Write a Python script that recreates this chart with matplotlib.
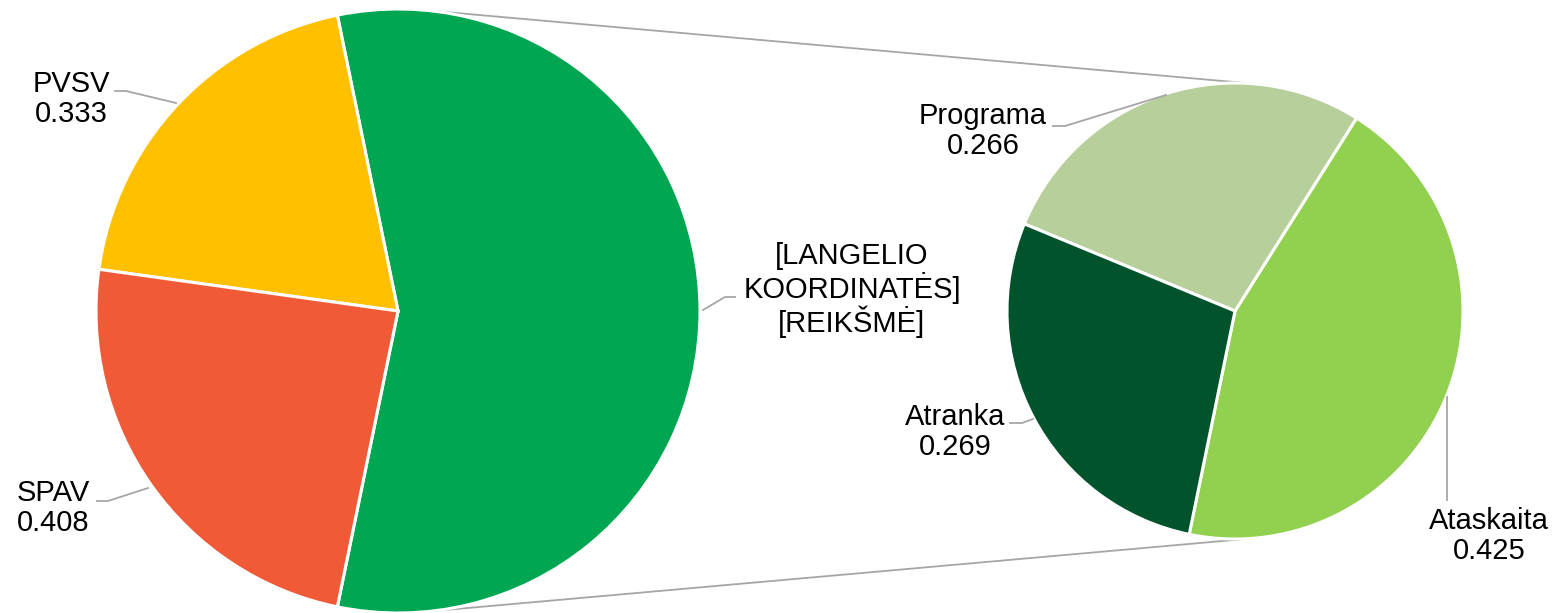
import numpy as np
import matplotlib.pyplot as plt

plt.rcParams['font.family'] = ['Liberation Sans', 'DejaVu Sans']

# main pie (the "other" slice is the sum of the sub pie)
main_labels = ['PVSV', 'SPAV']
main_values = [0.333, 0.408]
main_colors = ['#FFC000', '#F15A36']
other_label = '[LANGELIO\nKOORDINATĖS]\n[REIKŠMĖ]'
other_color = '#00A651'

# sub pie
sub_labels = ['Ataskaita', 'Programa', 'Atranka']
sub_values = [0.425, 0.266, 0.269]
sub_colors = ['#92D050', '#B7CF9B', '#00532A']

W, H = 1555, 613


def py(y):
    # pixel row -> data y (axes is laid out in pixels, y up)
    return H - y


fig = plt.figure(figsize=(W / 100, H / 100), dpi=100)
ax = fig.add_axes([0, 0, 1, 1])

c1, r1 = (398, py(311)), 302
c2, r2 = (1235, py(311)), 228

other_value = sum(sub_values)
vals = [other_value] + main_values
other_deg = 360 * other_value / sum(vals)
start = -other_deg / 2

wp = dict(edgecolor='white', linewidth=2.2)
ax.pie(vals, colors=[other_color] + main_colors, center=c1, radius=r1,
       startangle=start, counterclock=True, wedgeprops=wp, frame=True)
ax.pie(sub_values, colors=sub_colors, center=c2, radius=r2,
       startangle=start, counterclock=True, wedgeprops=wp, frame=True)

# connector lines: outer common tangents of the two pies
grey = '#A6A6A6'
d = c2[0] - c1[0]
nx = (r1 - r2) / d
for sgn in (1, -1):
    ny = sgn * np.sqrt(1 - nx ** 2)
    p0 = (c1[0] + r1 * nx, c1[1] + r1 * ny)
    p1 = (c2[0] + r2 * nx, c2[1] + r2 * ny)
    ax.plot([p0[0], p1[0]], [p0[1], p1[1]], color=grey, lw=1.3, zorder=0)

# data labels with leader lines
label_text = [f'{main_labels[0]}\n{main_values[0]:.3f}',
              f'{main_labels[1]}\n{main_values[1]:.3f}',
              other_label,
              f'{sub_labels[1]}\n{sub_values[1]:.3f}',
              f'{sub_labels[2]}\n{sub_values[2]:.3f}',
              f'{sub_labels[0]}\n{sub_values[0]:.3f}']
label_pos = [(71, 99), (53, 508), (852, 290), (983, 131), (955, 432), (1489, 536)]
leaders = [
    [(115, 91), (126, 91), (176, 103)],
    [(97, 501), (108, 501), (148, 488)],
    [(703, 310), (725, 297), (735, 297)],
    [(1053, 126), (1065, 126), (1166, 95)],
    [(1010, 423), (1022, 423), (1033, 419)],
    [(1447, 397), (1447, 500)],
]

for txt, (x, y), pts in zip(label_text, label_pos, leaders):
    ax.text(x, py(y), txt, ha='center', va='center', fontsize=21,
            color='black', linespacing=1.05)
    xs = [p[0] for p in pts]
    ys = [py(p[1]) for p in pts]
    ax.plot(xs, ys, color=grey, lw=1.3)

ax.set_xlim(0, W)
ax.set_ylim(0, H)
ax.set_aspect('equal')
ax.axis('off')

fig.savefig('out.png', dpi=100, facecolor='white')
